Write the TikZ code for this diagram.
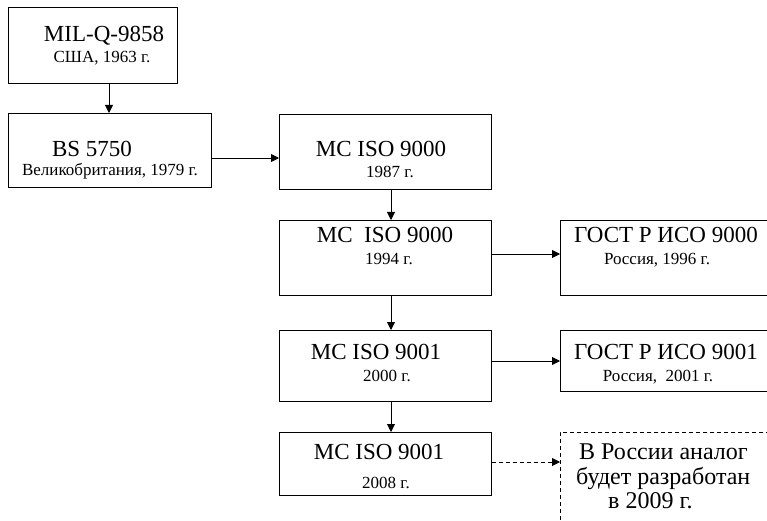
\documentclass[tikz,border=0pt]{standalone}
\usepackage{fontspec}
\setmainfont{Liberation Serif}
\usetikzlibrary{arrows.meta}
\tikzset{
  boxn/.style={draw=black, line width=0.9pt, rectangle, anchor=north west, inner sep=0pt},
  dboxn/.style={boxn, dash pattern=on 4pt off 3pt},
  arr/.style={line width=0.9pt, -{Triangle[length=8pt,width=8pt]}},
  darr/.style={arr, dash pattern=on 4pt off 3pt},
  ttl/.style={anchor=base, inner sep=0pt, font=\fontsize{23}{26}\selectfont},
  sub/.style={anchor=base, inner sep=0pt, font=\fontsize{17}{19}\selectfont},
  big/.style={anchor=base west, inner sep=0pt, font=\fontsize{24}{26}\selectfont}
}
\begin{document}
\begin{tikzpicture}[x=1pt,y=-1pt]
\useasboundingbox (0,0) rectangle (767,521);
\clip (0,0) rectangle (767,521);
\fill[white] (0,0) rectangle (767,521);
% boxes
\node[boxn, minimum width=169pt, minimum height=76pt] (b1) at (8,7) {};
\node[boxn, minimum width=203pt, minimum height=74pt] (b2) at (8,113) {};
\node[boxn, minimum width=212pt, minimum height=75pt] (b3) at (279,114) {};
\node[boxn, minimum width=212pt, minimum height=75pt] (b4) at (279,220) {};
\node[boxn, minimum width=212pt, minimum height=71pt] (b5) at (279,330) {};
\node[boxn, minimum width=212pt, minimum height=63pt] (b6) at (279,432) {};
\node[boxn, minimum width=220pt, minimum height=75pt] (g1) at (560,220) {};
\node[boxn, minimum width=220pt, minimum height=61pt] (g2) at (560,330) {};
\node[dboxn, minimum width=220pt, minimum height=120pt] (d) at (560,432) {};
% texts
\node[ttl] (t1) at (104,42) {MIL-Q-9858};
\node[sub] (s1) at (102,63) {США, 1963 г.};
\node[ttl] (t2) at (92,157) {BS 5750};
\node[sub] (s2) at (110,176) {Великобритания, 1979 г.};
\node[ttl] (t3) at (381,157) {МС ISO 9000};
\node[sub] (s3) at (390,178) {1987 г.};
\node[ttl] (t4) at (385,242) {МС\ \ ISO 9000};
\node[sub] (s4) at (389,264) {1994 г.};
\node[ttl] (tg1) at (666,242) {ГОСТ Р ИСО 9000};
\node[sub] (sg1) at (657,264) {Россия, 1996 г.};
\node[ttl] (t5) at (376,359) {МС ISO 9001};
\node[sub] (s5) at (387,381) {2000 г.};
\node[ttl] (tg2) at (666,359) {ГОСТ Р ИСО 9001};
\node[sub] (sg2) at (658,381) {Россия,\ \ 2001 г.};
\node[ttl] (t6) at (379,459) {МС ISO 9001};
\node[sub] (s6) at (386,488) {2008 г.};
\node[big] (d1) at (579,459) {В России аналог};
\node[big] (d2) at (576,484) {будет разработан};
\node[big] (d3) at (608,508) {в 2009 г.};
% connectors
\draw[arr] ([xshift=101pt]b1.south west) -- ([xshift=101pt]b2.north west);
\draw[arr] ([yshift=-45pt]b2.north east) -- ([yshift=-45pt]b2.north east -| b3.west);
\draw[arr] ([xshift=112pt]b3.south west) -- ([xshift=112pt]b4.north west);
\draw[arr] ([xshift=112pt]b4.south west) -- ([xshift=112pt]b5.north west);
\draw[arr] ([xshift=112pt]b5.south west) -- ([xshift=112pt]b6.north west);
\draw[arr] ([yshift=-34pt]b4.north east) -- ([yshift=-34pt]b4.north east -| g1.west);
\draw[arr] ([yshift=-31pt]b5.north east) -- ([yshift=-31pt]b5.north east -| g2.west);
\draw[darr] ([yshift=-30pt]b6.north east) -- ([yshift=-30pt]b6.north east -| d.west);
\end{tikzpicture}
\end{document}
